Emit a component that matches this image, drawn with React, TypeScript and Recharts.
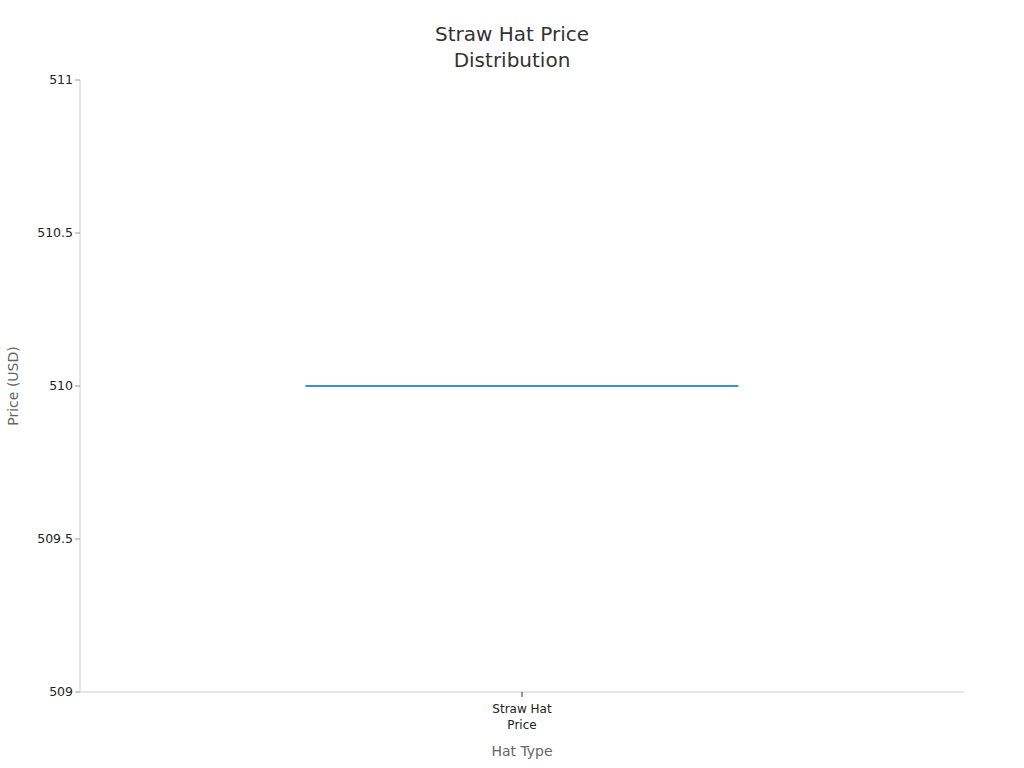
import { ComposedChart, Bar, XAxis, YAxis, Text } from 'recharts';

const categories = ['Straw Hat Price'];
const minValues = [510];
const q1Values = [510];
const medianValues = [510];
const q3Values = [510];
const maxValues = [510];
const yTicks = [509, 509.5, 510, 510.5, 511];

const data = categories.map((name, i) => ({
  name,
  min: minValues[i],
  q1: q1Values[i],
  median: medianValues[i],
  q3: q3Values[i],
  max: maxValues[i],
  box: [q1Values[i], q3Values[i]],
}));

const boxColor = '#3b8fd4';

function BoxShape(props: any) {
  const { x, y, width, height, payload } = props;
  const span = payload.q3 - payload.q1;
  const ratio = span === 0 ? 0 : (payload.q3 - payload.median) / span;
  const my = y + height * ratio;
  return (
    <g>
      {height > 0 && (
        <rect x={x} y={y} width={width} height={height} fill="#3b8fd4" fillOpacity={0.3} stroke={boxColor} strokeWidth={2} />
      )}
      <line x1={x} x2={x + width} y1={my} y2={my} stroke={boxColor} strokeWidth={2} />
    </g>
  );
}

function CategoryTick(props: any) {
  const { x, y, payload } = props;
  return (
    <Text x={x} y={y + 5} width={80} textAnchor="middle" verticalAnchor="start" fill="#222" fontSize={12} lineHeight={16}>
      {payload.value}
    </Text>
  );
}

export default function App() {
  return (
    <div style={{ position: 'absolute', left: 0, top: 0, width: 1024, height: 768, fontFamily: 'DejaVu Sans, sans-serif' }}>
      <div style={{ position: 'absolute', top: 21, width: 1024, textAlign: 'center', fontSize: 20, lineHeight: '26px', color: '#333' }}>
        Straw Hat Price
        <br />
        Distribution
      </div>
      <ComposedChart width={1024} height={768} data={data} margin={{ top: 80, right: 60, bottom: 9, left: 20 }} barCategoryGap="25.5%">
        <XAxis
          dataKey="name"
          height={67}
          stroke="#ccc"
          tick={<CategoryTick />}
          tickLine={{ stroke: '#333' }}
          tickSize={5}
          label={{ value: 'Hat Type', position: 'insideBottom', offset: 3, fill: '#666', fontSize: 14 }}
        />
        <YAxis
          domain={[509, 511]}
          ticks={yTicks}
          width={60}
          stroke="#ccc"
          tickLine={{ stroke: '#999' }}
          tickSize={5}
          tick={{ fill: '#222', fontSize: 12.5 }}
          label={{ value: 'Price (USD)', angle: -90, position: 'insideLeft', offset: -7, fill: '#666', fontSize: 14, style: { textAnchor: 'middle' } }}
        />
        <Bar dataKey="box" shape={<BoxShape />} isAnimationActive={false} />
      </ComposedChart>
    </div>
  );
}
